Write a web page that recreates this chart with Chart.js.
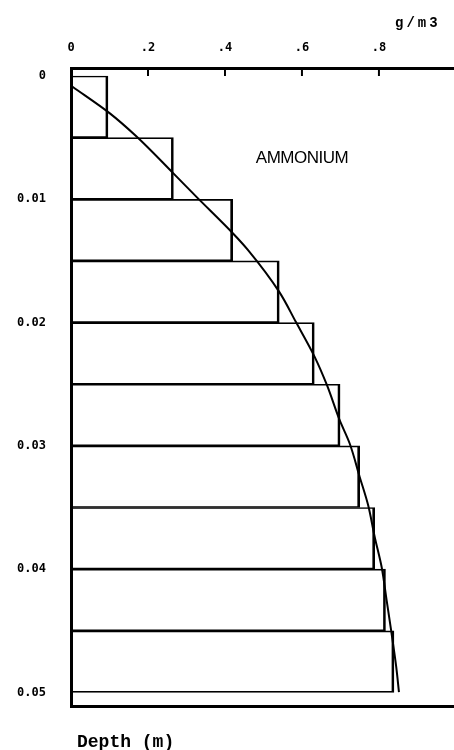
<!DOCTYPE html>
<html><head><meta charset="utf-8">
<script src="https://cdn.jsdelivr.net/npm/chart.js@4.4.1/dist/chart.umd.min.js"></script>
<style>html,body{margin:0;padding:0;background:#fff;overflow:hidden}</style>
</head><body>
<canvas id="c" width="454" height="750"></canvas>
<script>
// Layer (bar) data: depth of layer centres (m) and concentration (g/m3)
const layerDepth = [0.0025, 0.0075, 0.0125, 0.0175, 0.0225, 0.0275, 0.0325, 0.0375, 0.0425, 0.0475];
const layerConc  = [0.096, 0.266, 0.420, 0.541, 0.632, 0.699, 0.750, 0.789, 0.817, 0.839];
// Continuous profile curve
const curveDepth = [0.00087, 0.00303, 0.00493, 0.00790, 0.00980, 0.01277, 0.01412, 0.01751, 0.01994, 0.02278, 0.02508, 0.02792, 0.02981, 0.03252, 0.03482, 0.03739, 0.03983, 0.04253, 0.04483, 0.04795, 0.04998];
const curveConc  = [0.004, 0.101, 0.171, 0.266, 0.326, 0.421, 0.460, 0.541, 0.584, 0.633, 0.665, 0.698, 0.724, 0.750, 0.772, 0.789, 0.807, 0.820, 0.831, 0.845, 0.852];
// Tick labels
const xTickValues = [0, 0.2, 0.4, 0.6, 0.8];
const xTickLabels = ['0', '.2', '.4', '.6', '.8'];
const yTickValues = [0, 0.01, 0.02, 0.03, 0.04, 0.05];
const yTickLabels = ['0', '0.01', '0.02', '0.03', '0.04', '0.05'];
const seriesLabel = 'AMMONIUM';
const unitLabel = 'g/m3';
const depthLabel = 'Depth (m)';

const tickFont = {family: '"DejaVu Sans Mono", "Liberation Mono", monospace', size: 12, weight: 'bold'};

const decorPlugin = {
  id: 'decor',
  afterDraw(chart) {
    const ctx = chart.ctx, xs = chart.scales.x, area = chart.chartArea;
    ctx.save();
    ctx.strokeStyle = '#000';
    ctx.lineWidth = 2;
    xTickValues.forEach(v => {
      if (v === 0) return;
      const px = xs.getPixelForValue(v);
      ctx.beginPath();
      ctx.moveTo(px, area.top);
      ctx.lineTo(px, area.top + 8);
      ctx.stroke();
    });
    ctx.fillStyle = '#000';
    ctx.font = 'bold 14px "Liberation Mono", monospace';
    ctx.textBaseline = 'middle';
    ctx.textAlign = 'left';
    try { ctx.letterSpacing = '3px'; } catch (e) {}
    ctx.fillText(unitLabel, 395, 23);
    try { ctx.letterSpacing = '0px'; } catch (e) {}
    ctx.font = '17px "Liberation Sans", Arial, sans-serif';
    ctx.textAlign = 'center';
    try { ctx.letterSpacing = '-0.5px'; } catch (e) {}
    ctx.fillText(seriesLabel, 302, 158);
    try { ctx.letterSpacing = '0px'; } catch (e) {}
    ctx.font = 'bold 18px "Liberation Mono", monospace';
    ctx.textAlign = 'left';
    ctx.fillText(depthLabel, 77, 742);
    ctx.restore();
  }
};

new Chart(document.getElementById('c'), {
  type: 'bar',
  data: {
    datasets: [
      {
        type: 'line',
        data: curveConc.map((c, i) => ({x: c, y: curveDepth[i]})),
        borderColor: '#000',
        borderWidth: 2,
        pointRadius: 0,
        fill: false,
        cubicInterpolationMode: 'monotone',
        indexAxis: 'y',
        xAxisID: 'x', yAxisID: 'y',
        order: 0
      },
      {
        type: 'bar',
        data: layerConc.map((c, i) => ({x: c, y: layerDepth[i]})),
        backgroundColor: 'rgba(0,0,0,0)',
        borderColor: '#000',
        borderWidth: {top: 1, bottom: 1, left: 1, right: 2},
        borderSkipped: false,
        barPercentage: 1,
        categoryPercentage: 1,
        indexAxis: 'y',
        xAxisID: 'x', yAxisID: 'y',
        order: 1
      }
    ]
  },
  options: {
    indexAxis: 'y',
    responsive: false,
    animation: false,
    layout: {padding: 0},
    plugins: {legend: {display: false}, tooltip: {enabled: false}},
    scales: {
      x: {
        type: 'linear', position: 'top', min: 0, max: 0.995, offset: false,
        afterBuildTicks: s => { s.ticks = xTickValues.map(v => ({value: v})); },
        afterFit: s => { s.height = 68; },
        grid: {display: false},
        border: {display: true, color: '#000', width: 3},
        ticks: {
          color: '#000', font: tickFont, padding: 5, maxRotation: 0,
          callback: v => xTickLabels[xTickValues.indexOf(v)]
        }
      },
      x2: {
        type: 'linear', position: 'bottom', min: 0, max: 0.995, offset: false,
        afterFit: s => { s.height = 44; },
        grid: {display: false},
        border: {display: true, color: '#000', width: 3},
        ticks: {display: false}
      },
      y: {
        type: 'linear', reverse: true, min: -0.00065, max: 0.0511, offset: false,
        afterBuildTicks: s => { s.ticks = yTickValues.map(v => ({value: v})); },
        afterFit: s => { s.width = 71; },
        grid: {display: false},
        border: {display: true, color: '#000', width: 3},
        ticks: {
          color: '#000', font: tickFont, padding: 17,
          callback: v => yTickLabels[yTickValues.indexOf(v)]
        }
      }
    }
  },
  plugins: [decorPlugin]
});
</script>
</body></html>
